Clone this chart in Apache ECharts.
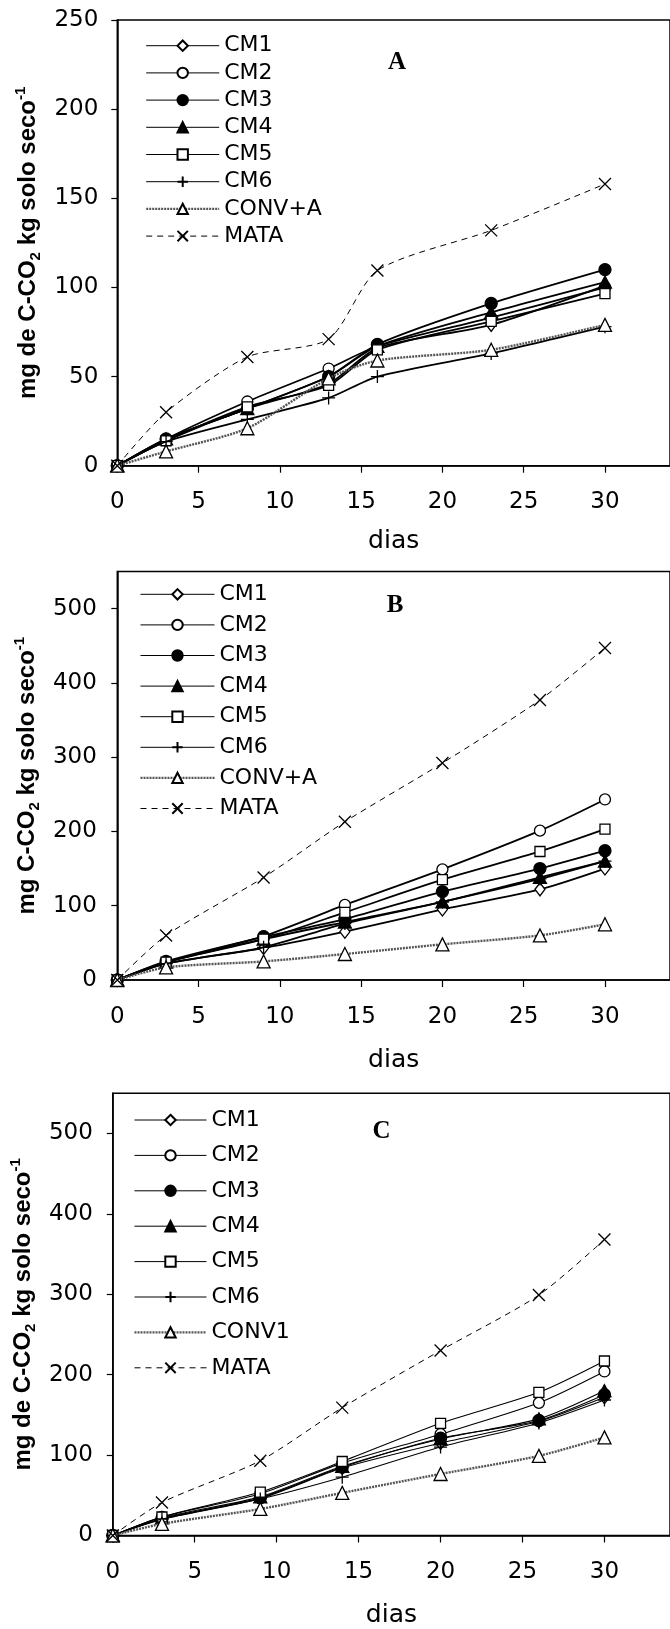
<!DOCTYPE html>
<html><head><meta charset="utf-8">
<script src="https://cdn.jsdelivr.net/npm/echarts@6/dist/echarts.min.js"></script>
<style>html,body{margin:0;padding:0;background:#fff}#c{width:670px;height:1629px}</style>
</head><body><div id="c"></div>
<script>
// ---- data ----
const daysA = [0, 3, 8, 13, 16, 23, 30];
const daysBC = [0, 3, 9, 14, 20, 26, 30];
const xTicks = [0, 5, 10, 15, 20, 25, 30];
const yTicksA = [0, 50, 100, 150, 200, 250];
const yTicksBC = [0, 100, 200, 300, 400, 500];
const namesAB = ['CM1', 'CM2', 'CM3', 'CM4', 'CM5', 'CM6', 'CONV+A', 'MATA'];
const namesC = ['CM1', 'CM2', 'CM3', 'CM4', 'CM5', 'CM6', 'CONV1', 'MATA'];

// Panel A
const a_CM1 = [0, 14, 32, 46, 66, 79, 101];
const a_CM2 = [0, 15, 36, 54.5, 67, 83, 100];
const a_CM3 = [0, 15, 32, 50, 68, 91, 110];
const a_CM4 = [0, 15, 32, 50, 67, 86, 103];
const a_CM5 = [0, 14, 33, 45, 65, 81, 96.5];
const a_CM6 = [0, 13.5, 26, 38, 50, 63, 78];
const a_CONV = [0, 8, 21, 49, 59, 65, 79];
const a_MATA = [0, 30, 61, 71, 109.5, 132, 158];

// Panel B
const b_CM1 = [0, 22, 43, 65, 95, 122, 150];
const b_CM2 = [0, 24, 59, 101, 149, 201, 243];
const b_CM3 = [0, 25, 58, 82, 119, 150, 174];
const b_CM4 = [0, 24, 55, 78, 105, 138, 160];
const b_CM5 = [0, 24, 55, 91, 135, 173, 203];
const b_CM6 = [0, 22, 44, 76, 105, 136, 160];
const b_CONV = [0, 17, 25, 35, 48, 60, 75];
const b_MATA = [0, 60, 138, 213, 292, 377, 447];

// Panel C
const c_CM1 = [0, 20, 46, 84, 115, 142, 172];
const c_CM2 = [0, 23, 52, 90, 126, 165, 204];
const c_CM3 = [0, 21, 47, 85, 121, 143, 175];
const c_CM4 = [0, 22, 48, 86, 120, 145, 180];
const c_CM5 = [0, 23, 54, 92, 139.5, 178, 217];
const c_CM6 = [0, 20.5, 45.5, 72.5, 110, 140, 168.5];
const c_CONV = [0, 14.5, 33, 53, 76.5, 99, 122];
const c_MATA = [0, 41, 93, 159, 230, 299, 368];

// ---- styling ----
const FONT = '"DejaVu Sans", sans-serif';
const TFONT = '"Liberation Sans", Arial, sans-serif';
const SERIF = '"Liberation Serif", "Times New Roman", serif';
const PLUS = 'path://M5,0L5,10M0,5L10,5';
const CROSS = 'path://M0,0L10,10M10,0L0,10';
const marks = [
  { symbol: 'diamond', size: [10, 13], fill: '#fff' },
  { symbol: 'circle', size: 11, fill: '#fff' },
  { symbol: 'circle', size: 12, fill: '#000' },
  { symbol: 'triangle', size: [13, 12], fill: '#000' },
  { symbol: 'rect', size: 10, fill: '#fff' },
  { symbol: PLUS, size: 13, fill: 'none' },
  { symbol: 'triangle', size: [13, 13], fill: '#fff' },
  { symbol: CROSS, size: 12, fill: 'none' }
];

function mkSeries(tag, gi, names, days, vals, lw) {
  return vals.map((v, i) => {
    const m = marks[i];
    let ls;
    if (i === 7) ls = { color: '#000', width: 1, type: [6, 5] };
    else if (i === 6) ls = { color: '#555', width: 2.4, type: [2, 1] };
    else ls = { color: '#000', width: lw, type: 'solid' };
    return {
      type: 'line', name: names[i] + '#' + tag,
      xAxisIndex: gi, yAxisIndex: gi,
      data: days.map((d, k) => [d, v[k]]),
      symbol: m.symbol, symbolSize: m.size, showAllSymbol: true,
      smooth: 0.25,
      lineStyle: ls,
      itemStyle: { color: m.fill === 'none' ? '#000' : m.fill, borderColor: '#000', borderWidth: 1.3 },
      emphasis: { disabled: true },
      z: 2 + i
    };
  });
}

const grids = [
  { left: 117.3, top: 20, width: 34 * 16.55, height: 445.7 },
  { left: 117.3, top: 571.4, width: 34 * 16.59, height: 408.6 },
  { left: 111.7, top: 1093.2, width: 34 * 16.52, height: 443.3 }
];

function xAxis(gi, nameGap, margin) {
  return {
    type: 'value', gridIndex: gi, min: 0, max: 34,
    name: 'dias', nameLocation: 'middle', nameGap: nameGap,
    nameTextStyle: { fontFamily: FONT, fontSize: 25, color: '#000', lineHeight: 25 },
    axisLine: { show: true, onZero: false, lineStyle: { color: '#000', width: 1.5 } },
    axisTick: { show: true, inside: false, length: 7, customValues: xTicks, lineStyle: { color: '#000', width: 1.2 } },
    axisLabel: { customValues: xTicks, margin: margin, fontFamily: FONT, fontSize: 23, color: '#000' },
    splitLine: { show: false }
  };
}
function yAxis(gi, max, ticks, nameText, nameGap, margin) {
  return {
    type: 'value', gridIndex: gi, min: 0, max: max,
    name: nameText, nameLocation: 'middle', nameGap: nameGap, nameRotate: 90,
    nameTextStyle: {
      fontFamily: TFONT, fontSize: 24, fontWeight: 'bold', color: '#000', lineHeight: 30,
      rich: {
        sub: { fontFamily: TFONT, fontSize: 15, fontWeight: 'bold', verticalAlign: 'bottom', lineHeight: 30, color: '#000' },
        sup: { fontFamily: TFONT, fontSize: 15, fontWeight: 'bold', verticalAlign: 'top', lineHeight: 30, color: '#000' }
      }
    },
    axisLine: { show: true, onZero: false, lineStyle: { color: '#000', width: 1.5 } },
    axisTick: { show: true, inside: false, length: 6, customValues: ticks, lineStyle: { color: '#000', width: 1.2 } },
    axisLabel: { customValues: ticks, margin: margin, fontFamily: FONT, fontSize: 23, color: '#000' },
    splitLine: { show: false }
  };
}

function legend(tag, names, left, top, gap, w) {
  return {
    orient: 'vertical', left: left, top: top, padding: 0,
    itemWidth: w, itemHeight: 13, itemGap: gap, selectedMode: false,
    data: names.map((n, i) => i === 6
      ? { name: n + '#' + tag, lineStyle: { width: 2.4 } }
      : { name: n + '#' + tag }),
    formatter: n => n.split('#')[0],
    textStyle: { fontFamily: FONT, fontSize: 22, lineHeight: 23, color: '#000' },
    lineStyle: { width: 1 }
  };
}

const chart = echarts.init(document.getElementById('c'), null, { renderer: 'canvas' });
chart.setOption({
  animation: false,
  backgroundColor: '#fff',
  grid: grids.map(g => Object.assign({ show: true, borderColor: '#000', borderWidth: 1.5, backgroundColor: 'transparent', containLabel: false }, g)),
  xAxis: [xAxis(0, 63.5, 25), xAxis(1, 67.5, 26), xAxis(2, 67.5, 25)],
  yAxis: [
    yAxis(0, 250, yTicksA, 'mg de C-CO{sub|2} kg solo seco{sup|-1}', 68, 19),
    yAxis(1, 550, yTicksBC, 'mg C-CO{sub|2} kg solo seco{sup|-1}', 68, 20.5),
    yAxis(2, 550, yTicksBC, 'mg de C-CO{sub|2} kg solo seco{sup|-1}', 62.5, 20)
  ],
  legend: [
    legend('A', namesAB, 145, 34.2, 4.2, 73),
    legend('B', namesAB, 139.3, 582.8, 7.6, 74),
    legend('C', namesC, 133.3, 1108.5, 12.4, 72)
  ],
  graphic: [
    { type: 'text', x: 397, y: 63, style: { text: 'A', font: 'bold 25px ' + SERIF, fill: '#000', align: 'center', verticalAlign: 'middle' } },
    { type: 'text', x: 395, y: 606, style: { text: 'B', font: 'bold 25px ' + SERIF, fill: '#000', align: 'center', verticalAlign: 'middle' } },
    { type: 'text', x: 381.6, y: 1132, style: { text: 'C', font: 'bold 25px ' + SERIF, fill: '#000', align: 'center', verticalAlign: 'middle' } }
  ],
  series: [].concat(
    mkSeries('A', 0, namesAB, daysA, [a_CM1, a_CM2, a_CM3, a_CM4, a_CM5, a_CM6, a_CONV, a_MATA], 1.8),
    mkSeries('B', 1, namesAB, daysBC, [b_CM1, b_CM2, b_CM3, b_CM4, b_CM5, b_CM6, b_CONV, b_MATA], 1.8),
    mkSeries('C', 2, namesC, daysBC, [c_CM1, c_CM2, c_CM3, c_CM4, c_CM5, c_CM6, c_CONV, c_MATA], 1.1)
  )
});
</script></body></html>
